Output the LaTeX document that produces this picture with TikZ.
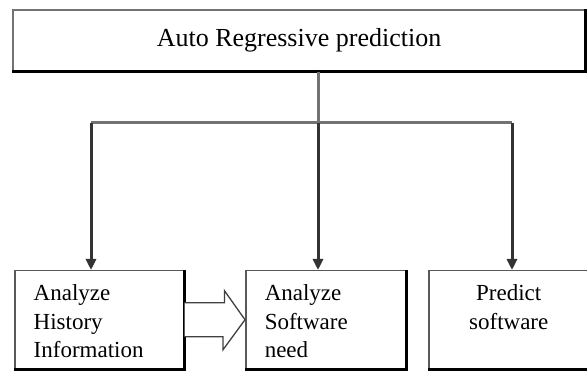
\documentclass[tikz,border=0pt]{standalone}
\usepackage{fontspec}
\setmainfont{Liberation Serif}
\usetikzlibrary{arrows.meta}
\newcommand{\boxlines}[3][\raggedright]{\parbox[c][70pt][t]{#2}{#1 #3}}

\begin{document}
\begin{tikzpicture}[x=1pt,y=1pt,
    stage/.style={draw=black!65, line width=1.5pt, inner xsep=19pt, inner ysep=14pt, anchor=north west},
    edge/.style={black, line width=2.8pt},
    bus/.style={draw=black!55, line width=3pt},
    feed/.style={bus, draw=black!80, -{Triangle[length=11pt,width=10pt]}}]
            \useasboundingbox (0,0) rectangle (587,372);
            \fontsize{23}{28.5}\selectfont
            \node[draw=black!55, line width=1.5pt, minimum width=572pt, minimum height=61pt, font=\fontsize{26}{30}\selectfont] (ar) at (299,331.5) {Auto Regressive prediction};
            \node[stage] (hist) at (14,102) {\boxlines{131pt}{Analyze\\History\\Information}};
            \node[stage] (need) at (245,102) {\boxlines{122pt}{Analyze\\Software\\need}};
            \node[stage] (pred) at (428,102) {\boxlines[\centering]{122pt}{Predict\\software}};
            % shadow edges
            \draw[edge] (ar.north east) -- (ar.south east) -- (ar.south west);
            \draw[edge] (hist.north east) -- (hist.south east) -- (hist.south west);
            \draw[edge] (need.north east) -- (need.south east) -- (need.south west);
            \draw[edge] (pred.north east) -- (pred.south east) -- (pred.south west);
            \coordinate (jl) at (91,249);
            \coordinate (jm) at (318,249);
            \coordinate (jr) at (512,249);
            \draw[bus] (ar.south -| jm) -- (jm);
            \draw[bus] (jl) -- (jr);
            \draw[feed] (jl) -- (jl |- hist.north);
            \draw[feed] (jm) -- (jm |- need.north);
            \draw[feed] (jr) -- (jr |- pred.north);
            \draw[fill=white, draw=black!75, line width=1.3pt] ([yshift=17pt]hist.east) -- ++(40,0) -- ++(0,12) -- (need.west) -- ++(-22,-30) -- ++(0,13) -- ([yshift=-17pt]hist.east);
        \end{tikzpicture}
\end{document}
